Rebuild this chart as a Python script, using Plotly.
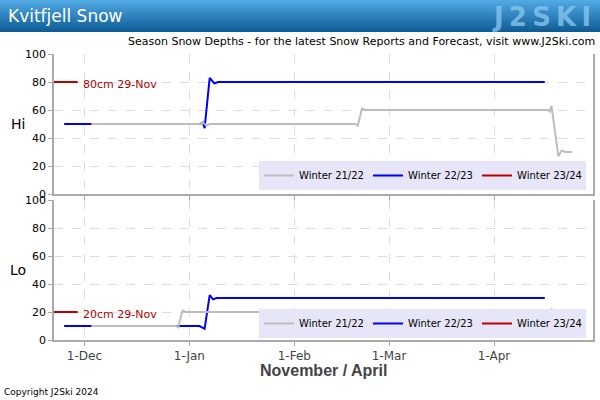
import plotly.graph_objects as go

# ---------------- data ----------------
season_labels = ["Winter 21/22", "Winter 22/23", "Winter 23/24"]
season_colors = ["#bdbdbd", "#0000ff", "#c00000"]

# Hi (upper) station depths, cm
hi_2122_dates = ["2022-12-03", "2023-01-04", "2023-01-05", "2023-01-06", "2023-01-07",
                 "2023-02-19", "2023-02-19 18:00", "2023-02-21", "2023-02-22",
                 "2023-04-17", "2023-04-17 12:00", "2023-04-18", "2023-04-20",
                 "2023-04-21", "2023-04-22", "2023-04-24"]
hi_2122_vals = [50, 50, 51, 49, 50, 50, 49, 61, 60, 60, 59, 63, 27, 31, 30, 30]

hi_2223_dates = ["2022-11-25", "2023-01-04", "2023-01-05", "2023-01-05 12:00",
                 "2023-01-07", "2023-01-08 09:00", "2023-01-09 12:00", "2023-04-16"]
hi_2223_vals = [50, 50, 51, 47, 83, 79, 80, 80]

hi_2324_dates = ["2022-11-22", "2022-11-29"]
hi_2324_vals = [80, 80]

# Lo (lower) station depths, cm
lo_2122_dates = ["2022-12-03", "2022-12-28", "2022-12-28 16:00", "2022-12-30",
                 "2022-12-31", "2023-04-17", "2023-04-18", "2023-04-20",
                 "2023-04-21", "2023-04-24"]
lo_2122_vals = [10, 10, 9, 21, 20, 20, 22, 3, 5, 5]

lo_2223_dates = ["2022-11-25", "2023-01-04", "2023-01-05 12:00", "2023-01-07",
                 "2023-01-08", "2023-01-09", "2023-04-16"]
lo_2223_vals = [10, 10, 8, 32, 29, 30, 30]

lo_2324_dates = ["2022-11-22", "2022-11-29"]
lo_2324_vals = [20, 20]

latest_hi_label = "80cm 29-Nov"
latest_lo_label = "20cm 29-Nov"

x_tick_vals = ["2022-12-01", "2023-01-01", "2023-02-01", "2023-03-01", "2023-04-01"]
x_tick_text = ["1-Dec", "1-Jan", "1-Feb", "1-Mar", "1-Apr"]
y_tick_vals = [0, 20, 40, 60, 80, 100]

x_range = ["2022-11-22", "2023-04-30 06:00"]

W, H = 600, 400

def px(xp):
    return xp / W

def py(yp):
    return 1 - yp / H

fig = go.Figure()

# draw order: 22/23 then 21/22 (on top) then 23/24 ; legend order via legendrank
hi_sets = [(hi_2122_dates, hi_2122_vals), (hi_2223_dates, hi_2223_vals), (hi_2324_dates, hi_2324_vals)]
lo_sets = [(lo_2122_dates, lo_2122_vals), (lo_2223_dates, lo_2223_vals), (lo_2324_dates, lo_2324_vals)]

for order in [1, 0, 2]:
    d, v = hi_sets[order]
    fig.add_trace(go.Scatter(x=d, y=v, mode="lines", name=season_labels[order],
                             line=dict(color=season_colors[order], width=2),
                             xaxis="x", yaxis="y", legend="legend",
                             legendrank=order + 1, hoverinfo="skip"))
for order in [1, 0, 2]:
    d, v = lo_sets[order]
    fig.add_trace(go.Scatter(x=d, y=v, mode="lines", name=season_labels[order],
                             line=dict(color=season_colors[order], width=2),
                             xaxis="x2", yaxis="y2", legend="legend2",
                             legendrank=order + 1, hoverinfo="skip"))

grid = dict(showgrid=True, gridcolor="#dddddd", griddash="dash", gridwidth=1)
axis_common = dict(showline=True, linecolor="#aaaaaa", linewidth=1.5,
                   ticks="outside", ticklen=4, tickcolor="#aaaaaa",
                   zeroline=False, **grid)

xcommon = dict(type="date", range=x_range, tickvals=x_tick_vals, ticktext=x_tick_text,
               domain=[px(54), px(593)], mirror=False, **axis_common)
ycommon = dict(range=[0, 100], tickvals=y_tick_vals, mirror=True,
               tickfont=dict(family="DejaVu Sans", size=11, color="#000"), **axis_common)

legend_common = dict(orientation="h", xanchor="right", yanchor="bottom",
                     bgcolor="#e6e6f8", font=dict(family="DejaVu Sans", size=10, color="#000"),
                     itemwidth=30, tracegroupgap=0, entrywidth=64)

fig.update_layout(
    width=W, height=H,
    margin=dict(l=0, r=0, t=0, b=0, autoexpand=False),
    paper_bgcolor="white", plot_bgcolor="white",
    xaxis=dict(anchor="y", showticklabels=False, **xcommon),
    yaxis=dict(anchor="x", domain=[py(194), py(54)], **ycommon),
    xaxis2=dict(anchor="y2", showticklabels=True,
                tickfont=dict(family="DejaVu Sans", size=12, color="#444"), **xcommon),
    yaxis2=dict(anchor="x2", domain=[py(340), py(200)], **ycommon),
    legend=dict(x=px(586), y=py(190), **legend_common),
    legend2=dict(x=px(586), y=py(338), **legend_common),
    showlegend=True,
)

# title bar gradient built from thin strips
top_rgb = (82, 170, 228)
bot_rgb = (14, 92, 150)
n = 32
for i in range(n):
    t = i / (n - 1)
    c = tuple(int(top_rgb[k] + (bot_rgb[k] - top_rgb[k]) * t) for k in range(3))
    fig.add_shape(type="rect", xref="paper", yref="paper",
                  x0=0, x1=1, y0=py(i + 1), y1=py(i),
                  fillcolor="rgb(%d,%d,%d)" % c, line=dict(width=0), layer="below")

annots = [
    dict(text="Kvitfjell Snow", x=px(6), y=py(16), xanchor="left", yanchor="middle",
         font=dict(family="DejaVu Sans", size=17, color="white")),
    dict(text="<b>J\u20092\u2009S\u2009K\u2009I</b>", x=px(593), y=py(17), xanchor="right",
         yanchor="middle",
         font=dict(family="DejaVu Sans", size=26, color="rgba(140,200,240,0.75)")),
    dict(text="Season Snow Depths - for the latest Snow Reports and Forecast, visit www.J2Ski.com",
         x=px(597), y=py(41), xanchor="right", yanchor="middle",
         font=dict(family="DejaVu Sans", size=11, color="#000")),
    dict(text="Hi", x=px(18), y=py(124), xanchor="center", yanchor="middle",
         font=dict(family="DejaVu Sans", size=14, color="#000")),
    dict(text="Lo", x=px(18), y=py(270), xanchor="center", yanchor="middle",
         font=dict(family="DejaVu Sans", size=14, color="#000")),
    dict(text="<b>November / April</b>", x=px(323), y=py(370), xanchor="center", yanchor="middle",
         font=dict(family="Liberation Sans", size=16, color="#444")),
    dict(text="Copyright J2Ski 2024", x=px(2), y=py(392), xanchor="left", yanchor="middle",
         font=dict(family="DejaVu Sans", size=9, color="#000")),
]
for a in annots:
    fig.add_annotation(xref="paper", yref="paper", showarrow=False, **a)

fig.add_annotation(x=hi_2324_dates[-1], y=hi_2324_vals[-1], xref="x", yref="y",
                   text=latest_hi_label, showarrow=False, xanchor="left", yanchor="middle",
                   xshift=3, yshift=-2, font=dict(family="DejaVu Sans", size=11, color="#b00000"))
fig.add_annotation(x=lo_2324_dates[-1], y=lo_2324_vals[-1], xref="x2", yref="y2",
                   text=latest_lo_label, showarrow=False, xanchor="left", yanchor="middle",
                   xshift=3, yshift=-2, font=dict(family="DejaVu Sans", size=11, color="#b00000"))

fig.write_html("out.html")
